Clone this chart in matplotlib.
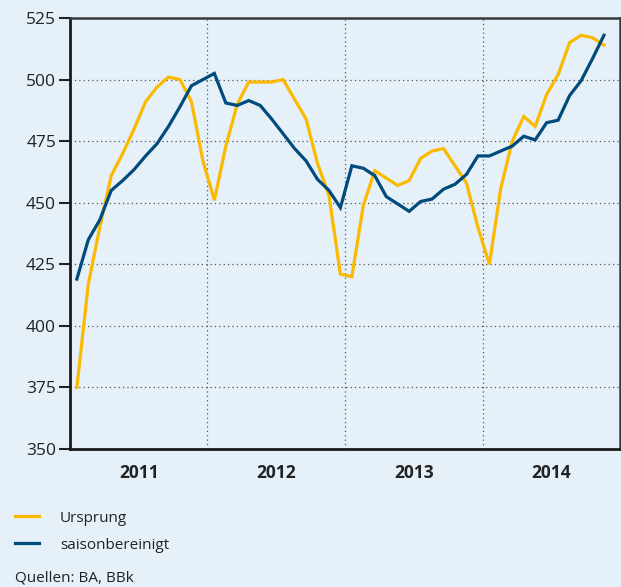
import numpy as np
import matplotlib
matplotlib.use("Agg")
import matplotlib.pyplot as plt
from matplotlib.ticker import FixedLocator, NullFormatter

plt.rcParams['font.family'] = ['Open Sans', 'DejaVu Sans']

# monthly values, Jan 2011 .. Nov 2014
ursprung = [375, 417, 440, 461, 470, 480, 491, 497, 501, 500, 491, 467,
            451, 473, 490, 499, 499, 499, 500, 492, 484, 466, 453, 421,
            420, 449, 463, 460, 457, 459, 468, 471, 472, 465, 458, 440,
            425, 456, 475, 485, 481, 494, 502, 515, 518, 517, 514]
saisonbereinigt = [419, 435, 443, 455, 459, 463.5, 469, 474, 481, 489, 497.5, 500,
                   502.5, 490.5, 489.5, 491.5, 489.5, 484, 478, 472, 467, 459.5, 455, 448,
                   465, 464, 461, 452.5, 449.5, 446.5, 450.5, 451.5, 455.5, 457.5, 461.5, 469,
                   469, 471, 473, 477, 475.5, 482.5, 483.5, 493.5, 499.5, 508.5, 518]
years = ['2011', '2012', '2013', '2014']
y_ticks = [350, 375, 400, 425, 450, 475, 500, 525]

BG = '#e5f0f8'
YELLOW = '#fbb900'
BLUE = '#004a7c'

fig = plt.figure(figsize=(6.21, 5.87), dpi=100, facecolor=BG)
ax = fig.add_axes([0.1127, 0.2351, 0.8857, 0.7342], facecolor=BG)

x = np.arange(len(ursprung)) + 0.6
l1, = ax.plot(x, ursprung, color=YELLOW, lw=2.3, solid_joinstyle='miter', label='Ursprung')
l2, = ax.plot(x, saisonbereinigt, color=BLUE, lw=2.3, solid_joinstyle='miter', label='saisonbereinigt')

ax.set_xlim(0, 48)
ax.set_ylim(350, 525)
ax.set_yticks(y_ticks)
ax.tick_params(axis='y', length=8, width=1.5, pad=2, labelsize=12.5, colors='#222222')

# year boundaries as major ticks (grid only), labels centred at minor ticks
ax.xaxis.set_major_locator(FixedLocator([12, 24, 36]))
ax.xaxis.set_major_formatter(NullFormatter())
ax.xaxis.set_minor_locator(FixedLocator([6, 18, 30, 42]))
ax.set_xticklabels(years, minor=True, fontweight='bold', fontsize=12.5, color='#222222')
ax.tick_params(axis='x', which='both', length=0, pad=11)

ax.grid(True, which='major', linestyle=(0, (1, 2.5)), color='#555555', lw=0.9)
ax.set_axisbelow(True)

for side in ['left', 'bottom']:
    ax.spines[side].set_linewidth(2)
    ax.spines[side].set_color('#1a1a1a')
for side in ['top', 'right']:
    ax.spines[side].set_linewidth(1.8)
    ax.spines[side].set_color('#3a3a3a')

fig.legend(handles=[l1, l2], loc='upper left', bbox_to_anchor=(0.024, 0.13),
           frameon=False, fontsize=11, handlelength=1.6, handletextpad=1.35,
           labelspacing=0.78, borderaxespad=0, borderpad=0, labelcolor='#222222')

fig.text(0.024, 0.002, 'Quellen: BA, BBk', fontsize=11, color='#222222',
         ha='left', va='bottom')

fig.savefig('out.png', dpi=100, facecolor=BG)
